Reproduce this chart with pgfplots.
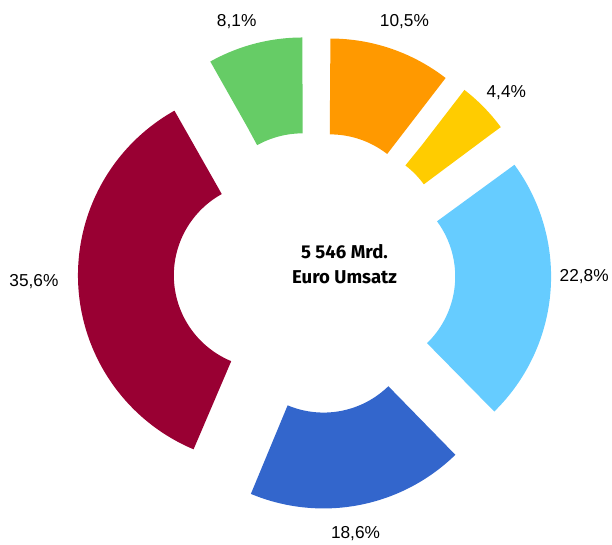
\documentclass[border=0pt]{standalone}
\usepackage{pgfplots}
\pgfplotsset{compat=1.18}
\usepackage{fontspec}
\setmainfont{Liberation Sans}
\newfontfamily\centerfont{Fira Sans}
\definecolor{cOrange}{HTML}{FF9900}
\definecolor{cYellow}{HTML}{FFCC00}
\definecolor{cLBlue}{HTML}{66CCFF}
\definecolor{cBlue}{HTML}{3366CC}
\definecolor{cRed}{HTML}{990033}
\definecolor{cGreen}{HTML}{66CC66}
% donut geometry (bp): mid radius 141, ring width 96, explode offset 48
\def\cum{90}
\newcommand{\seg}[2]{%
 \pgfmathsetmacro\segA{\cum}%
 \pgfmathsetmacro\segB{\cum-3.6*#1}%
 \pgfmathsetmacro\segM{(\segA+\segB)/2}%
 \pgfmathsetmacro\segX{48*cos(\segM)}%
 \pgfmathsetmacro\segY{48*sin(\segM)}%
 \xdef\cum{\segB}%
 \edef\temp{\noexpand\addplot[draw=#2, line width=96bp, line cap=butt, line join=round, no markers, domain=\segB:\segA, samples=150] ({\segX+141*cos(x)},{\segY+141*sin(x)});}%
 \temp}
\begin{document}
\begin{tikzpicture}
\begin{axis}[
  scale only axis, width=612bp, height=545bp,
  xmin=-315, xmax=297, ymin=-272, ymax=273,
  hide axis, clip=false]
\draw[draw=none] (axis cs:-315,-272) rectangle (axis cs:297,273);
\seg{10.5}{cOrange}
\seg{4.4}{cYellow}
\seg{22.8}{cLBlue}
\seg{18.6}{cBlue}
\seg{35.6}{cRed}
\seg{8.1}{cGreen}
\begin{scope}[font=\fontsize{17.3bp}{20bp}\selectfont]
\node at (axis cs:-78,251) {8,1\%};
\node at (axis cs:90,251) {10,5\%};
\node at (axis cs:192,180) {4,4\%};
\node at (axis cs:270,-4) {22,8\%};
\node at (axis cs:41,-261) {18,6\%};
\node at (axis cs:-281,-9) {35,6\%};
\end{scope}
\node[align=center, font=\centerfont\bfseries\fontsize{18.6bp}{25bp}\selectfont] at (axis cs:30,8.5) {5 546 Mrd.\\Euro Umsatz};
\end{axis}
\end{tikzpicture}
\end{document}
